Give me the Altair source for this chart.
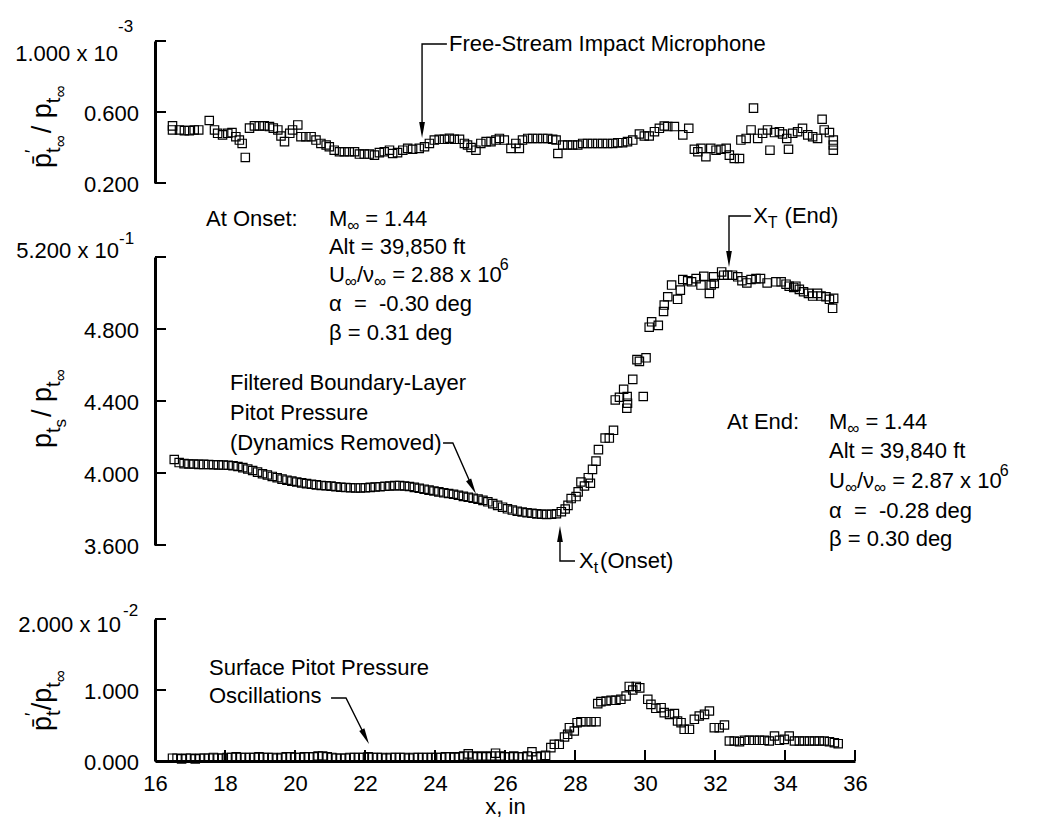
import altair as alt
import pandas as pd

FONT = "Liberation Sans"
FS = 22
NB = "\u00a0"

# ---------------- data ----------------
top_x = [16.50, 16.50, 16.70, 16.84, 16.98, 17.12, 17.25, 17.55, 17.70, 17.79, 17.93, 18.08, 18.20, 18.31,
         18.41, 18.49, 18.58, 18.70, 18.84, 18.98, 19.12, 19.27, 19.38, 19.51, 19.60, 19.70, 19.85, 19.93,
         20.08, 20.17, 20.31, 20.46, 20.60, 20.74, 20.89, 20.98, 21.12, 21.27, 21.41, 21.55, 21.70, 21.84,
         21.98, 22.12, 22.27, 22.41, 22.55, 22.70, 22.79, 22.93, 23.08, 23.22, 23.36, 23.55, 23.70, 23.84,
         23.98, 24.12, 24.27, 24.41, 24.55, 24.70, 24.84, 24.93, 25.03, 25.17, 25.31, 25.46, 25.60, 25.74,
         25.84, 25.98, 26.17, 26.31, 26.41, 26.50, 26.65, 26.79, 26.93, 27.08, 27.22, 27.36, 27.46, 27.51,
         27.65, 27.79, 27.93, 28.08, 28.22, 28.36, 28.50, 28.65, 28.79, 28.93, 29.08, 29.22, 29.36, 29.50,
         29.65, 29.84, 29.98, 30.12, 30.27, 30.41, 30.55, 30.65, 30.84, 31.08, 31.25, 31.41, 31.51, 31.60,
         31.74, 31.88, 32.03, 32.17, 32.32, 32.41, 32.55, 32.70, 32.74, 32.89, 33.03, 33.10, 33.22, 33.36,
         33.50, 33.57, 33.70, 33.84, 33.93, 34.05, 34.10, 34.22, 34.36, 34.50, 34.65, 34.79, 34.93, 35.06,
         35.12, 35.27, 35.38, 35.38, 35.38]
top_y = [0.522, 0.499, 0.499, 0.495, 0.495, 0.499, 0.499, 0.552, 0.499, 0.480, 0.471, 0.480, 0.484, 0.461,
         0.442, 0.423, 0.344, 0.509, 0.522, 0.522, 0.522, 0.518, 0.509, 0.499, 0.465, 0.433, 0.480, 0.499,
         0.527, 0.461, 0.461, 0.461, 0.442, 0.423, 0.414, 0.404, 0.385, 0.376, 0.376, 0.376, 0.376, 0.363,
         0.363, 0.363, 0.357, 0.371, 0.376, 0.385, 0.366, 0.371, 0.385, 0.395, 0.390, 0.395, 0.404, 0.423,
         0.442, 0.446, 0.446, 0.452, 0.446, 0.446, 0.423, 0.414, 0.400, 0.385, 0.423, 0.433, 0.433, 0.442,
         0.451, 0.442, 0.395, 0.423, 0.395, 0.442, 0.451, 0.451, 0.451, 0.451, 0.451, 0.446, 0.442, 0.366,
         0.414, 0.414, 0.414, 0.414, 0.423, 0.423, 0.423, 0.423, 0.423, 0.423, 0.423, 0.427, 0.427, 0.433,
         0.442, 0.476, 0.465, 0.465, 0.489, 0.508, 0.521, 0.518, 0.518, 0.471, 0.508, 0.390, 0.376, 0.395,
         0.348, 0.395, 0.385, 0.390, 0.395, 0.357, 0.338, 0.338, 0.442, 0.451, 0.499, 0.622, 0.451, 0.480,
         0.499, 0.385, 0.484, 0.489, 0.476, 0.451, 0.390, 0.480, 0.489, 0.508, 0.471, 0.461, 0.451, 0.559,
         0.499, 0.484, 0.442, 0.414, 0.385]

mid_x = [16.55, 16.69, 16.83, 16.97, 17.11, 17.25, 17.39, 17.53, 17.67, 17.81, 17.95, 18.09, 18.23, 18.37,
         18.51, 18.65, 18.79, 18.93, 19.07, 19.21, 19.35, 19.49, 19.63, 19.77, 19.91, 20.05, 20.19, 20.33,
         20.47, 20.61, 20.75, 20.89, 21.03, 21.17, 21.31, 21.45, 21.59, 21.73, 21.87, 22.01, 22.15, 22.29,
         22.43, 22.57, 22.71, 22.85, 22.99, 23.13, 23.27, 23.41, 23.55, 23.69, 23.83, 23.97, 24.11, 24.25,
         24.39, 24.53, 24.67, 24.81, 24.95, 25.09, 25.23, 25.37, 25.51, 25.65, 25.79, 25.93, 26.07, 26.21,
         26.35, 26.49, 26.63, 26.77, 26.91, 27.05, 27.19, 27.33, 27.47, 27.61, 27.72, 27.80, 27.89, 28.03,
         28.09, 28.17, 28.27, 28.38, 28.44, 28.50, 28.60, 28.67, 28.86, 28.98, 29.10, 29.15, 29.27, 29.39,
         29.48, 29.49, 29.50, 29.65, 29.77, 29.84, 29.95, 30.03, 30.12, 30.19, 30.38, 30.53, 30.55, 30.65,
         30.76, 30.93, 31.01, 31.08, 31.22, 31.33, 31.46, 31.60, 31.68, 31.84, 31.89, 31.96, 31.98, 32.19,
         32.25, 32.36, 32.50, 32.65, 32.77, 32.91, 33.03, 33.17, 33.30, 33.49, 33.74, 33.89, 34.03, 34.12,
         34.25, 34.31, 34.41, 34.53, 34.67, 34.79, 34.93, 35.03, 35.17, 35.27, 35.39, 35.36]
mid_y = [4.075, 4.058, 4.052, 4.050, 4.050, 4.048, 4.048, 4.047, 4.046, 4.045, 4.044, 4.043, 4.040, 4.036,
         4.030, 4.022, 4.014, 4.005, 3.996, 3.989, 3.981, 3.974, 3.966, 3.960, 3.955, 3.950, 3.945, 3.941,
         3.937, 3.934, 3.931, 3.929, 3.927, 3.924, 3.921, 3.919, 3.918, 3.917, 3.917, 3.918, 3.920, 3.922,
         3.924, 3.926, 3.928, 3.930, 3.930, 3.928, 3.925, 3.920, 3.915, 3.910, 3.905, 3.900, 3.895, 3.890,
         3.886, 3.882, 3.876, 3.870, 3.865, 3.860, 3.855, 3.848, 3.840, 3.830, 3.820, 3.810, 3.801, 3.794,
         3.788, 3.783, 3.779, 3.776, 3.773, 3.771, 3.770, 3.771, 3.774, 3.785, 3.800, 3.820, 3.858, 3.869,
         3.895, 3.950, 3.928, 3.974, 3.943, 4.020, 4.066, 4.130, 4.194, 4.194, 4.237, 4.406, 4.421, 4.465,
         4.360, 4.425, 4.388, 4.520, 4.630, 4.620, 4.425, 4.640, 4.810, 4.840, 4.820, 4.897, 4.933, 4.979,
         5.044, 4.965, 5.016, 5.075, 5.068, 5.062, 5.080, 5.044, 5.093, 4.998, 5.044, 5.090, 5.053, 5.117,
         5.099, 5.099, 5.099, 5.090, 5.068, 5.056, 5.075, 5.080, 5.080, 5.056, 5.062, 5.062, 5.049, 5.038,
         5.031, 5.038, 5.020, 5.007, 4.998, 4.983, 4.998, 4.983, 4.979, 4.965, 4.970, 4.915]

bot_x = [16.50, 16.63, 16.76, 16.89, 17.02, 17.15, 17.28, 17.41, 17.54, 17.67, 17.80, 17.93, 18.06, 18.19,
         18.32, 18.45, 18.58, 18.71, 18.84, 18.97, 19.10, 19.23, 19.36, 19.49, 19.62, 19.75, 19.88, 20.01,
         20.14, 20.27, 20.40, 20.53, 20.66, 20.79, 20.92, 21.05, 21.18, 21.31, 21.44, 21.57, 21.70, 21.83,
         21.96, 22.09, 22.22, 22.35, 22.48, 22.61, 22.74, 22.87, 23.00, 23.13, 23.26, 23.39, 23.52, 23.65,
         23.78, 23.91, 24.04, 24.17, 24.30, 24.43, 24.56, 24.69, 24.82, 24.95, 25.08, 25.21, 25.34, 25.47,
         25.60, 25.73, 25.86, 25.99, 26.12, 26.25, 26.38, 26.51, 26.64, 26.77, 26.90, 27.03, 27.16, 27.31,
         27.41, 27.55, 27.70, 27.79, 27.84, 27.98, 28.06, 28.17, 28.31, 28.46, 28.60, 28.65, 28.74, 28.89,
         29.03, 29.17, 29.31, 29.46, 29.55, 29.65, 29.75, 29.85, 30.08, 30.17, 30.31, 30.46, 30.55, 30.70,
         30.84, 30.93, 31.03, 31.12, 31.27, 31.41, 31.55, 31.70, 31.84, 31.98, 32.12, 32.27, 32.41, 32.55,
         32.70, 32.84, 32.98, 33.12, 33.27, 33.41, 33.55, 33.70, 33.84, 33.98, 34.12, 34.27, 34.41, 34.55,
         34.70, 34.84, 34.98, 35.12, 35.27, 35.41, 35.52]
bot_y = [0.04, 0.04, 0.03, 0.04, 0.04, 0.03, 0.04, 0.04, 0.04, 0.05, 0.04, 0.04, 0.05, 0.05,
         0.06, 0.05, 0.05, 0.05, 0.05, 0.06, 0.05, 0.05, 0.05, 0.04, 0.05, 0.06, 0.06, 0.05,
         0.05, 0.06, 0.06, 0.06, 0.07, 0.07, 0.06, 0.05, 0.04, 0.04, 0.04, 0.05, 0.05, 0.05,
         0.05, 0.06, 0.05, 0.05, 0.05, 0.04, 0.05, 0.05, 0.05, 0.05, 0.04, 0.05, 0.05, 0.05,
         0.05, 0.05, 0.05, 0.05, 0.06, 0.06, 0.05, 0.06, 0.07, 0.10, 0.07, 0.06, 0.07, 0.06,
         0.07, 0.11, 0.07, 0.06, 0.06, 0.07, 0.06, 0.06, 0.07, 0.13, 0.06, 0.07, 0.08, 0.188,
         0.235, 0.235, 0.338, 0.376, 0.469, 0.423, 0.540, 0.554, 0.554, 0.554, 0.554, 0.808, 0.836, 0.845,
         0.855, 0.855, 0.869, 0.915, 1.050, 1.000, 1.050, 1.030, 0.869, 0.798, 0.742, 0.751, 0.681, 0.657,
         0.667, 0.563, 0.540, 0.446, 0.446, 0.587, 0.634, 0.657, 0.704, 0.469, 0.469, 0.507, 0.282, 0.282,
         0.272, 0.291, 0.291, 0.291, 0.291, 0.291, 0.282, 0.352, 0.291, 0.305, 0.352, 0.282, 0.282, 0.282,
         0.282, 0.282, 0.282, 0.282, 0.272, 0.258, 0.244]

x_ticks = [16, 18, 20, 22, 24, 26, 28, 30, 32, 34, 36]
top_ticks = [0.2, 0.6, 1.0]
top_labels = ["0.200", "0.600", "1.000 x 10"]
mid_ticks = [3.6, 4.0, 4.4, 4.8, 5.2]
mid_labels = ["3.600", "4.000", "4.400", "4.800", "5.200 x 10"]
bot_ticks = [0.0, 1.0, 2.0]
bot_labels = ["0.000", "1.000", "2.000 x 10"]
top_exp, mid_exp, bot_exp = "-3", "-1", "-2"

# ---------------- layout helpers ----------------
W = 700
H_TOP, H_MID, H_BOT = 142, 288, 142
XS = alt.Scale(domain=[16, 36], nice=False, zero=False)
TICK_X = 11 * 20 / W          # inward tick length (11 px) in x units

CW = {' ': 278, NB: 278, '(': 333, ')': 333, ',': 278, '-': 333, '.': 278, '/': 278, ':': 278, '=': 584,
      'A': 667, 'B': 667, 'D': 722, 'E': 667, 'F': 611, 'I': 278, 'L': 556, 'M': 833, 'O': 778,
      'P': 667, 'R': 722, 'S': 667, 'T': 611, 'U': 722, 'X': 667, 'a': 556, 'c': 500, 'd': 556,
      'e': 556, 'f': 278, 'g': 556, 'h': 556, 'i': 222, 'l': 222, 'm': 833, 'n': 556, 'o': 556,
      'p': 556, 'r': 333, 's': 500, 't': 278, 'u': 556, 'v': 500, 'x': 500, 'y': 500,
      '\u03b1': 578, '\u03b2': 575, '\u03bd': 500, '\u221e': 713, '\u2032': 191, '\u0304': 0}


def tw(s, size):
    return sum(CW.get(c, 556) for c in s) * size / 1000.0


class Panel:
    def __init__(self, ydom, yvals, xaxis=None):
        self.ysc = alt.Scale(domain=ydom, nice=False, zero=False)
        self.ya = alt.Axis(values=yvals, labels=False, ticks=False, grid=False, domainColor='black',
                           domainWidth=3, title=None)
        self.xa = xaxis

    def enc(self, xf='x', yf='y'):
        return dict(x=alt.X(f'{xf}:Q', scale=XS, axis=self.xa),
                    y=alt.Y(f'{yf}:Q', scale=self.ysc, axis=self.ya))


def text_layer(P, xs, ys, txts, size=FS, dx=0, dy=0, align='left', angle=0):
    df = pd.DataFrame({'x': xs, 'y': ys, 't': txts})
    kw = dict(font=FONT, fontSize=size, align=align, baseline='middle', dx=dx, dy=dy, color='black')
    if angle:
        kw['angle'] = angle
    return alt.Chart(df).mark_text(**kw).encode(text='t:N', **P.enc())


def rich(P, x, y, pieces, angle=0, base_dy=0):
    """pieces: (text, size, shift[, advance[, extra_dx]])"""
    out, off = [], 0.0
    for p in pieces:
        txt, size, sh = p[0], p[1], p[2]
        adv = p[3] if len(p) > 3 else True
        extra = p[4] if len(p) > 4 else 0
        out.append(text_layer(P, [x], [y], [txt], size=size, dx=round(off + extra, 1),
                              dy=base_dy + sh, angle=angle))
        if adv:
            off += tw(txt, size) + extra
    return out


def leader(P, xs, ys):
    df = pd.DataFrame({'x': xs, 'y': ys, 'o': list(range(len(xs)))})
    return alt.Chart(df).mark_line(color='black', strokeWidth=1.4).encode(order='o:Q', **P.enc())


ARROW = "M0,1 L-0.36,-1 L0.36,-1 Z"


def head(P, x, y, angle=0):
    kw = dict(shape=ARROW, size=256, filled=True, color='black', opacity=1)
    if angle:
        kw['angle'] = angle
    return alt.Chart(pd.DataFrame({'x': [x], 'y': [y]})).mark_point(**kw).encode(**P.enc())


def points(P, xs, ys):
    df = pd.DataFrame({'x': xs, 'y': ys})
    return alt.Chart(df).mark_point(shape='square', size=70, filled=False, color='black',
                                    strokeWidth=1.2, opacity=1).encode(**P.enc())


def yticks(P, vals):
    df = pd.DataFrame({'x': [16] * len(vals), 'x2': [16 + TICK_X] * len(vals), 'y': vals})
    return alt.Chart(df).mark_rule(color='black', strokeWidth=2).encode(x2='x2:Q', **P.enc())


def xticks(P, vals, ylen):
    df = pd.DataFrame({'x': vals, 'y': [0.0] * len(vals), 'y2': [ylen] * len(vals)})
    return alt.Chart(df).mark_rule(color='black', strokeWidth=2).encode(y2='y2:Q', **P.enc())


def ylabels(P, vals, labs, exp, head_dx, head_dy, exp_dx, exp_dy):
    return [
        text_layer(P, [16] * (len(vals) - 1), vals[:-1], labs[:-1], dx=-16, dy=2, align='right'),
        text_layer(P, [16], [vals[-1]], [labs[-1]], dx=head_dx, dy=head_dy, align='right'),
        text_layer(P, [16], [vals[-1]], [exp], size=17, dx=exp_dx, dy=exp_dy, align='left'),
    ]


INF = "\u221e"
BAR_P = "p\u0304"
TITLE_TOP = [(BAR_P, 27, 0), ("\u2032", 18, -10, False), ("t", 20, 11), (INF, 17, 18),
             (NB + "/", 27, 0, True, 2), ("p", 27, 0), ("t", 20, 11), (INF, 17, 18)]
TITLE_MID = [("p", 27, 0), ("t", 20, 11), ("s", 17, 18), (NB + "/", 27, 0, True, 2), ("p", 27, 0),
             ("t", 20, 11), (INF, 17, 18)]
TITLE_BOT = [(BAR_P, 27, 0), ("\u2032", 18, -10, False), ("t", 20, 11), ("/", 27, 0), ("p", 27, 0),
             ("t", 20, 11), (INF, 17, 18)]


def m_line(val):
    return [("M", FS, 0), (INF, 17, 7), ("= " + val, FS, 0, True, 6)]


def u_line(val):
    return [("U", FS, 0), (INF, 17, 7), ("/\u03bd", FS, 0), (INF, 17, 7),
            ("= " + val + " x 10", FS, 0, True, 6), ("6", 16, -10, True, -2)]


# ---------------- top panel ----------------
PT = Panel([0.2, 1.0], top_ticks)
top_layers = [points(PT, top_x, top_y), yticks(PT, top_ticks)]
top_layers += ylabels(PT, top_ticks, top_labels, top_exp, -37, 13, -37, -14)
top_layers += rich(PT, 16, 0.285, TITLE_TOP, angle=270, base_dy=-112)
top_layers += [text_layer(PT, [24.40], [0.983], ["Free-Stream Impact Microphone"]),
               leader(PT, [24.34, 23.63, 23.63], [0.983, 0.983, 0.527]),
               head(PT, 23.63, 0.499)]
top = alt.layer(*top_layers).properties(width=W, height=H_TOP)

# ---------------- middle panel ----------------
PM = Panel([3.6, 5.2], mid_ticks)
mid_layers = [points(PM, mid_x, mid_y), yticks(PM, mid_ticks)]
mid_layers += ylabels(PM, mid_ticks, mid_labels, mid_exp, -36, -6, -36, -18)
mid_layers += rich(PM, 16, 4.139, TITLE_MID, angle=270, base_dy=-112)
# At onset block
mid_layers += [text_layer(PM, [17.457], [5.411], ["At Onset:"])]
mid_layers += rich(PM, 20.97, 5.411, m_line("1.44"))
mid_layers += [text_layer(PM, [20.97, 20.97, 20.97], [5.256, 4.939, 4.778],
                          ["Alt = 39,850 ft", "\u03b1" + NB + " =" + NB + " -0.30 deg", "\u03b2 = 0.31 deg"])]
mid_layers += rich(PM, 20.97, 5.100, u_line("2.88"))
# X_T (End)
mid_layers += rich(PM, 33.09, 5.428, [("X", FS, 0), ("T", 16, 7), ("(End)", FS, 0, True, 7)])
mid_layers += [leader(PM, [33.03, 32.40, 32.40], [5.428, 5.428, 5.217]), head(PM, 32.40, 5.189)]
# Filtered boundary layer
mid_layers += [text_layer(PM, [18.143] * 3, [4.5, 4.333, 4.167],
                          ["Filtered Boundary-Layer", "Pitot Pressure", "(Dynamics Removed)"])]
mid_layers += [leader(PM, [24.23, 24.51, 25.00], [4.167, 4.167, 3.950]), head(PM, 25.066, 3.923, 332.2)]
# At end block
mid_layers += [text_layer(PM, [32.343], [4.283], ["At End:"])]
mid_layers += rich(PM, 35.257, 4.283, m_line("1.44"))
mid_layers += [text_layer(PM, [35.257, 35.257, 35.257], [4.122, 3.789, 3.633],
                          ["Alt = 39,840 ft", "\u03b1" + NB + " =" + NB + " -0.28 deg", "\u03b2 = 0.30 deg"])]
mid_layers += rich(PM, 35.257, 3.956, u_line("2.87"))
# X_t (Onset)
mid_layers += rich(PM, 28.114, 3.511, [("X", FS, 0), ("t", 16, 7), ("(Onset)", FS, 0, True, 2)])
mid_layers += [leader(PM, [28.00, 27.571, 27.571], [3.511, 3.511, 3.633]), head(PM, 27.571, 3.661, 180)]
mid = alt.layer(*mid_layers).properties(width=W, height=H_MID)

# ---------------- bottom panel ----------------
XA = alt.Axis(values=x_ticks, ticks=False, grid=False, domainColor='black', domainWidth=3,
              labelFont=FONT, labelFontSize=FS, labelColor='black', labelPadding=12, labelFlush=False,
              format='d', title='x, in', titleFont=FONT, titleFontSize=FS, titleFontWeight='normal',
              titleColor='black', titlePadding=2)
PB = Panel([0.0, 2.0], bot_ticks, XA)
bot_layers = [points(PB, bot_x, bot_y), yticks(PB, bot_ticks), xticks(PB, x_ticks[1:], 11 * 2.0 / H_BOT)]
bot_layers += ylabels(PB, bot_ticks, bot_labels, bot_exp, -34, 6, -32, -8)
bot_layers += rich(PB, 16, 0.423, TITLE_BOT, angle=270, base_dy=-112)
bot_layers += [text_layer(PB, [17.543, 17.543], [1.310, 0.915], ["Surface Pitot Pressure", "Oscillations"]),
               leader(PB, [21.03, 21.457, 21.943], [0.887, 0.887, 0.408]),
               head(PB, 22.011, 0.341, 333.4)]
bot = alt.layer(*bot_layers).properties(width=W, height=H_BOT)

chart = alt.vconcat(top, mid, bot, spacing=74, bounds='flush').properties(
    padding={'left': 7, 'top': 10, 'right': 5, 'bottom': 5}, background='white'
).configure_view(strokeWidth=0)

chart.save("out.html", embed_options={"renderer": "svg", "actions": False})
